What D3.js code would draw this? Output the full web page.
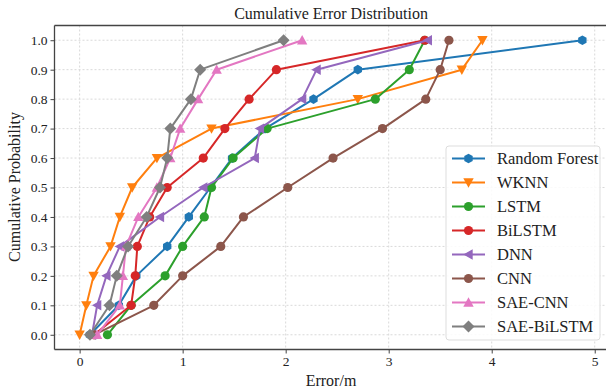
<!DOCTYPE html>
<html><head><meta charset="utf-8">
<script src="https://cdn.jsdelivr.net/npm/d3@7"></script>
<style>
body{margin:0;background:#fff;}
svg{display:block;}
svg text{font-family:"Times New Roman","Liberation Serif",Tinos,serif;}
</style></head>
<body><svg id="c" width="606" height="391"></svg>
<script>
const probs = [0,0.1,0.2,0.3,0.4,0.5,0.6,0.7,0.8,0.9,1.0];
const seriesNames = ["Random Forest","WKNN","LSTM","BiLSTM","DNN","CNN","SAE-CNN","SAE-BiLSTM"];
const rfErr     = [0.10,0.38,0.55,0.85,1.06,1.27,1.48,1.80,2.27,2.70,4.88];
const wknnErr   = [0.00,0.065,0.135,0.30,0.39,0.51,0.75,1.28,2.70,3.71,3.91];
const lstmErr   = [0.27,0.50,0.83,1.00,1.21,1.28,1.49,1.82,2.87,3.20,3.35];
const bilstmErr = [0.14,0.50,0.54,0.56,0.68,0.85,1.20,1.41,1.645,1.91,3.35];
const dnnErr    = [0.12,0.17,0.26,0.39,0.78,1.20,1.70,1.75,2.16,2.30,3.38];
const cnnErr    = [0.14,0.72,1.00,1.37,1.59,2.02,2.46,2.94,3.36,3.50,3.585];
const saecnnErr = [0.17,0.39,0.42,0.45,0.57,0.75,0.88,0.976,1.15,1.33,2.16];
const saebiErr  = [0.10,0.29,0.36,0.47,0.65,0.78,0.85,0.88,1.08,1.17,1.98];
const xTicks = [0,1,2,3,4,5];
const yTicks = [0,0.1,0.2,0.3,0.4,0.5,0.6,0.7,0.8,0.9,1.0];

const allErr = [rfErr,wknnErr,lstmErr,bilstmErr,dnnErr,cnnErr,saecnnErr,saebiErr];
const colors = ["#1f77b4","#ff7f0e","#2ca02c","#d62728","#9467bd","#8c564b","#e377c2","#7f7f7f"];
const markers = ["hex","tdown","circle","circle","tleft","circle","tup","diamond"];

const svg = d3.select("#c");
const L=54.5, R=607.5, T=25.5, B=349.5;
const x = d3.scaleLinear().domain([-0.244,5.124]).range([L,R]);
const y = d3.scaleLinear().domain([-0.05,1.05]).range([B,T]);

// grid
const g = svg.append("g");
g.selectAll(".gx").data(xTicks).join("line")
  .attr("x1",d=>x(d)).attr("x2",d=>x(d)).attr("y1",T).attr("y2",B)
  .attr("stroke","#d9d9d9").attr("stroke-width",1).attr("stroke-dasharray","2,2");
g.selectAll(".gy").data(yTicks).join("line")
  .attr("y1",d=>y(d)).attr("y2",d=>y(d)).attr("x1",L).attr("x2",R)
  .attr("stroke","#d9d9d9").attr("stroke-width",1).attr("stroke-dasharray","2,2");

function markerPath(kind){
  const r=4.6;
  if(kind==="circle") return d3.symbol(d3.symbolCircle, Math.PI*r*r)();
  if(kind==="hex"){
    const pts=d3.range(6).map(i=>{const a=Math.PI/6+i*Math.PI/3;return [r*1.05*Math.cos(a),r*1.05*Math.sin(a)];});
    return "M"+pts.map(p=>p.join(",")).join("L")+"Z";
  }
  if(kind==="diamond"){const s=6;return `M0,${-s}L${s},0L0,${s}L${-s},0Z`;}
  const s=5.2;
  if(kind==="tdown") return `M${-s},${-s*0.8}L${s},${-s*0.8}L0,${s}Z`;
  if(kind==="tup") return `M${-s},${s*0.8}L${s},${s*0.8}L0,${-s}Z`;
  if(kind==="tleft") return `M${s*0.8},${-s}L${s*0.8},${s}L${-s},0Z`;
}

const line = d3.line().x(d=>x(d[0])).y(d=>y(d[1]));
const plot = svg.append("g");
allErr.forEach((errs,i)=>{
  const pts = errs.map((e,j)=>[e,probs[j]]);
  const sg = plot.append("g");
  sg.append("path").attr("d",line(pts)).attr("fill","none")
    .attr("stroke",colors[i]).attr("stroke-width",2).attr("stroke-linejoin","round");
  sg.selectAll("path.m").data(pts).join("path").attr("class","m")
    .attr("d",markerPath(markers[i]))
    .attr("transform",d=>`translate(${x(d[0])},${y(d[1])})`)
    .attr("fill",colors[i]);
});

// spines
const sp = svg.append("g").attr("stroke","#444").attr("stroke-width",1.3);
sp.append("line").attr("x1",L).attr("x2",L).attr("y1",T).attr("y2",B);
sp.append("line").attr("x1",L).attr("x2",R).attr("y1",B).attr("y2",B);
sp.append("line").attr("x1",L).attr("x2",R).attr("y1",T).attr("y2",T);
sp.append("line").attr("x1",R).attr("x2",R).attr("y1",T).attr("y2",B);

// axes
const xa = svg.append("g").attr("transform",`translate(0,${B})`)
  .call(d3.axisBottom(x).tickValues(xTicks).tickFormat(d3.format("d")).tickSize(4).tickPadding(3));
const ya = svg.append("g").attr("transform",`translate(${L},0)`)
  .call(d3.axisLeft(y).tickValues(yTicks).tickFormat(d3.format(".1f")).tickSize(4).tickPadding(3));
[xa,ya].forEach(a=>{
  a.attr("font-family",null);
  a.select(".domain").remove();
  a.selectAll("line").attr("stroke","#444");
  a.selectAll("text").attr("font-size",13.5).attr("fill","#222");
});

// title and labels
svg.append("text").attr("x",331).attr("y",19).attr("text-anchor","middle")
  .attr("font-size",16).attr("fill","#222").text("Cumulative Error Distribution");
svg.append("text").attr("x",331).attr("y",386).attr("text-anchor","middle")
  .attr("font-size",16).attr("fill","#222").text("Error/m");
svg.append("text").attr("transform","translate(20,187) rotate(-90)").attr("text-anchor","middle")
  .attr("font-size",16).attr("fill","#222").text("Cumulative Probability");

// legend
const lg = svg.append("g");
lg.append("rect").attr("x",446).attr("y",146).attr("width",154).attr("height",194).attr("rx",3)
  .attr("fill","rgba(255,255,255,0.85)").attr("stroke","#ddd");
seriesNames.forEach((n,i)=>{
  const cy = 158.5 + i*24;
  lg.append("line").attr("x1",452).attr("x2",485).attr("y1",cy).attr("y2",cy)
    .attr("stroke",colors[i]).attr("stroke-width",2);
  lg.append("path").attr("d",markerPath(markers[i])).attr("transform",`translate(468.5,${cy})`).attr("fill",colors[i]);
  lg.append("text").attr("x",497).attr("y",cy+5.5).attr("font-size",16.5).attr("fill","#222").text(n);
});
</script></body></html>
